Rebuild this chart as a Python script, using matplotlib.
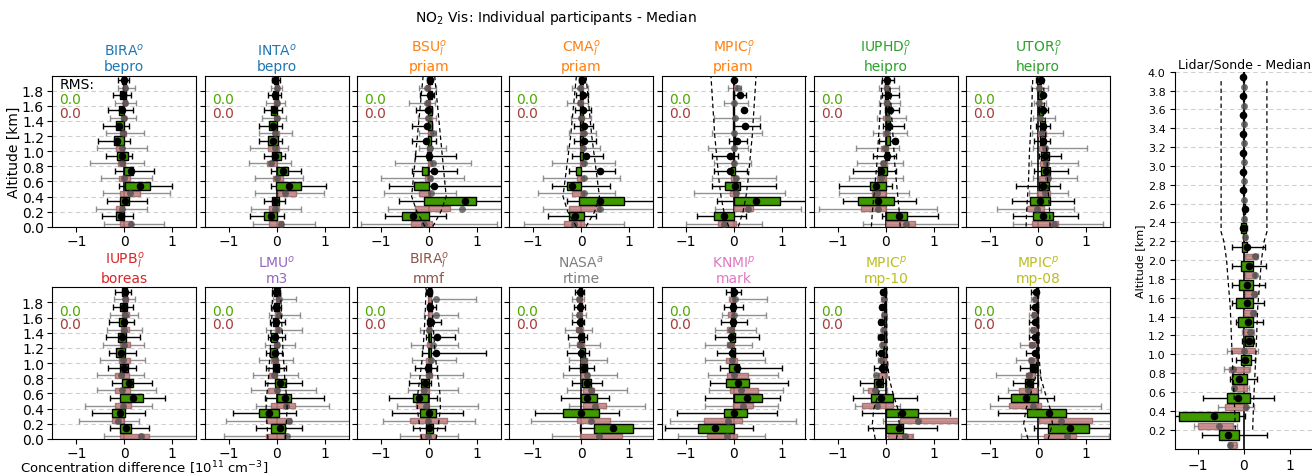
import numpy as np
import matplotlib
matplotlib.use("Agg")
import matplotlib.pyplot as plt

# ---------------------------------------------------------------------------
# Altitude levels [km]: MAX-DOAS retrieval (green) and reference (pink) boxes
# ---------------------------------------------------------------------------
ALT_RET = [0.14, 0.34, 0.54, 0.74, 0.94, 1.14, 1.34, 1.54, 1.74, 1.94]
ALT_REF = [0.04, 0.24, 0.44, 0.64, 0.84, 1.04, 1.24, 1.44, 1.64, 1.84]
ENV_ALT = [0.0, 0.2, 0.4, 0.6, 0.8, 1.0, 1.2, 1.4, 1.6, 1.8, 2.0]

# Each row: (whisker low, q25, mean, q75, whisker high), bottom level first
BIRA_BEPRO_RET = [(-0.47, -0.17, -0.07, 0.00, 0.18), (-0.36, -0.08, 0.02, 0.09, 0.47),
                  (-0.12, 0.01, 0.33, 0.54, 1.00), (-0.19, 0.00, 0.13, 0.19, 0.61),
                  (-0.38, -0.15, -0.05, 0.07, 0.17), (-0.54, -0.22, -0.15, 0.00, 0.12),
                  (-0.45, -0.18, -0.12, 0.00, 0.09), (-0.33, -0.12, -0.05, 0.00, 0.18),
                  (-0.24, -0.08, -0.03, 0.03, 0.14), (-0.14, -0.05, 0.00, 0.04, 0.09)]
BIRA_BEPRO_REF = [(-0.43, -0.10, 0.13, 0.16, 0.82), (-0.60, -0.18, -0.05, -0.01, 0.47),
                  (-0.44, -0.08, 0.12, 0.33, 0.96), (-0.49, -0.12, 0.00, 0.11, 0.58),
                  (-0.72, -0.14, -0.05, 0.02, 0.40), (-0.57, -0.17, -0.05, 0.00, 0.47),
                  (-0.38, -0.10, -0.02, 0.04, 0.42), (-0.29, -0.07, 0.00, 0.04, 0.25),
                  (-0.19, -0.03, 0.02, 0.06, 0.25), (-0.14, -0.01, 0.02, 0.06, 0.23)]

INTA_BEPRO_RET = [(-0.55, -0.26, -0.11, 0.01, 0.15), (-0.27, -0.10, -0.04, 0.04, 0.17),
                  (-0.11, -0.01, 0.26, 0.51, 1.03), (-0.11, 0.01, 0.14, 0.23, 0.51),
                  (-0.27, -0.10, -0.03, 0.10, 0.18), (-0.36, -0.17, -0.08, 0.03, 0.12),
                  (-0.36, -0.15, -0.08, 0.00, 0.12), (-0.27, -0.11, -0.06, 0.01, 0.12),
                  (-0.17, -0.08, -0.04, 0.03, 0.10), (-0.10, -0.06, -0.03, 0.03, 0.08)]
INTA_BEPRO_REF = [(-0.50, -0.15, 0.10, 0.13, 0.79), (-0.53, -0.15, -0.03, 0.06, 0.51),
                  (-0.44, 0.03, 0.17, 0.40, 0.98), (-0.46, -0.08, 0.01, 0.13, 0.54),
                  (-0.57, -0.20, -0.11, 0.01, 0.31), (-0.55, -0.17, -0.04, 0.04, 0.24),
                  (-0.37, -0.08, -0.03, 0.04, 0.32), (-0.30, -0.06, 0.00, 0.04, 0.19),
                  (-0.22, -0.06, 0.00, 0.04, 0.17), (-0.11, -0.04, 0.01, 0.04, 0.12)]

BSU_PRIAM_RET = [(-0.92, -0.57, -0.33, 0.00, 0.36), (-0.62, -0.10, 0.75, 0.99, 1.60),
                 (-0.83, -0.31, 0.10, 0.00, 1.60), (-0.35, -0.15, 0.10, -0.01, 0.59),
                 (-0.28, -0.03, 0.01, 0.04, 0.56), (-0.35, -0.02, -0.06, 0.05, 0.15),
                 (-0.35, -0.02, -0.05, 0.06, 0.07), (-0.26, -0.02, -0.01, 0.06, 0.06),
                 (-0.19, -0.02, 0.03, 0.07, 0.10), (-0.05, -0.02, 0.02, 0.06, 0.07)]
BSU_PRIAM_REF = [(-1.42, -0.38, -0.10, 0.07, 1.42), (-0.85, -0.29, 0.68, 0.43, 1.60),
                 (-0.94, -0.21, 0.05, 0.03, 0.56), (-1.00, -0.08, 0.03, 0.06, 0.73),
                 (-0.71, -0.01, 0.08, 0.07, 0.87), (-0.21, -0.03, 0.03, 0.06, 0.35),
                 (-0.21, -0.01, 0.08, 0.08, 0.15), (-0.22, -0.06, -0.01, 0.06, 0.15),
                 (-0.42, -0.07, -0.05, 0.03, 0.13), (-0.21, -0.06, -0.03, 0.03, 0.15)]

CMA_PRIAM_RET = [(-0.70, -0.25, -0.12, 0.05, 0.30), (-0.30, -0.05, 0.40, 0.90, 1.60),
                 (-0.60, -0.30, -0.20, 0.00, 0.60), (-0.25, -0.10, 0.40, 0.00, 0.70),
                 (-0.20, -0.02, 0.10, 0.03, 0.45), (-0.15, -0.02, 0.05, 0.03, 0.30),
                 (-0.15, -0.02, 0.05, 0.03, 0.25), (-0.12, -0.02, 0.03, 0.03, 0.20),
                 (-0.10, -0.02, 0.03, 0.03, 0.15), (-0.05, -0.02, 0.02, 0.03, 0.08)]
CMA_PRIAM_REF = [(-1.20, -0.35, -0.15, 0.05, 0.90), (-0.80, -0.25, 0.40, 0.40, 1.60),
                 (-0.90, -0.20, 0.05, 0.05, 0.70), (-0.80, -0.08, 0.05, 0.06, 0.80),
                 (-0.60, -0.02, 0.05, 0.07, 0.70), (-0.30, -0.03, 0.03, 0.06, 0.40),
                 (-0.25, -0.02, 0.05, 0.07, 0.30), (-0.22, -0.05, 0.00, 0.06, 0.20),
                 (-0.30, -0.06, -0.02, 0.04, 0.15), (-0.20, -0.05, -0.02, 0.03, 0.15)]

MPIC_PRIAM_RET = [(-0.76, -0.40, -0.19, 0.02, 0.26), (-0.34, 0.00, 0.47, 0.96, 1.60),
                  (-0.45, -0.17, 0.03, 0.13, 0.89), (-0.41, -0.06, -0.08, 0.03, 0.29),
                  (-0.45, -0.02, -0.07, 0.02, 0.09), (-0.10, 0.00, 0.07, 0.04, 0.29),
                  (0.02, -0.01, 0.23, 0.02, 0.56), (0.22, -0.01, 0.22, 0.02, 0.22),
                  (0.00, -0.01, 0.13, 0.02, 0.26), (0.02, -0.01, 0.02, 0.02, 0.02)]
MPIC_PRIAM_REF = [(-0.99, -0.33, -0.19, 0.06, 0.59), (-0.38, 0.02, 0.31, 0.40, 1.41),
                  (-0.83, -0.08, 0.06, 0.09, 1.07), (-0.45, -0.06, 0.06, 0.08, 0.89),
                  (-0.40, -0.03, 0.01, 0.03, 0.36), (-0.54, -0.02, 0.02, 0.03, 0.30),
                  (-0.45, -0.01, 0.02, 0.03, 0.59), (-0.40, -0.01, 0.03, 0.03, 0.56),
                  (-0.20, -0.02, 0.00, 0.03, 0.31), (-0.12, 0.02, 0.10, 0.08, 0.15)]

IUPHD_HEIPRO_RET = [(-0.07, 0.00, 0.27, 0.45, 1.08), (-0.90, -0.58, -0.16, 0.17, 0.63),
                    (-0.98, -0.32, -0.21, 0.00, 0.12), (-0.69, -0.16, -0.09, 0.03, 0.21),
                    (-0.27, -0.02, 0.03, 0.07, 0.21), (-0.14, 0.00, 0.19, 0.08, 0.24),
                    (-0.06, 0.00, 0.07, 0.08, 0.38), (-0.02, 0.00, 0.08, 0.07, 0.28),
                    (-0.07, -0.02, 0.05, 0.05, 0.28), (-0.07, -0.02, 0.03, 0.05, 0.17)]
IUPHD_HEIPRO_REF = [(-0.48, 0.00, 0.42, 0.61, 1.52), (-1.40, -0.51, -0.16, 0.00, 1.07),
                    (-0.98, -0.28, -0.18, 0.00, 0.49), (-0.76, -0.18, -0.11, 0.00, 0.36),
                    (-0.60, -0.11, -0.06, 0.03, 0.36), (-0.62, -0.09, -0.02, 0.05, 0.28),
                    (-0.27, -0.06, 0.03, 0.05, 0.44), (-0.18, -0.06, 0.05, 0.07, 0.42),
                    (-0.14, -0.04, 0.03, 0.07, 0.30), (-0.14, -0.04, 0.03, 0.05, 0.28)]

UTOR_HEIPRO_RET = [(-0.52, -0.11, 0.11, 0.32, 0.84), (-0.55, -0.17, 0.04, 0.24, 0.74),
                   (-0.45, 0.01, 0.10, 0.22, 0.46), (-0.08, 0.06, 0.17, 0.24, 0.62),
                   (0.01, 0.06, 0.15, 0.22, 0.48), (-0.08, 0.04, 0.10, 0.15, 0.25),
                   (-0.04, 0.04, 0.10, 0.15, 0.25), (0.00, 0.01, 0.11, 0.10, 0.20),
                   (0.11, -0.01, 0.11, 0.08, 0.11), (-0.04, -0.03, 0.06, 0.06, 0.08)]
UTOR_HEIPRO_REF = [(-0.53, -0.13, 0.34, 0.41, 1.36), (-0.85, -0.24, -0.03, 0.13, 0.74),
                   (-0.20, -0.03, 0.15, 0.25, 0.62), (-0.11, 0.01, 0.20, 0.25, 0.81),
                   (-0.15, 0.04, 0.17, 0.20, 0.84), (-0.11, 0.01, 0.15, 0.18, 1.02),
                   (-0.13, -0.01, 0.08, 0.17, 0.52), (-0.11, -0.03, 0.03, 0.08, 0.36),
                   (-0.08, -0.03, 0.01, 0.06, 0.17), (-0.15, -0.03, 0.01, 0.06, 0.20)]

IUPB_BOREAS_RET = [(-0.29, -0.08, 0.04, 0.13, 0.51), (-0.67, -0.26, -0.08, 0.02, 0.44),
                   (-0.29, -0.08, 0.18, 0.39, 0.85), (-0.26, -0.05, 0.09, 0.19, 0.58),
                   (-0.33, -0.10, -0.01, 0.07, 0.25), (-0.31, -0.17, -0.06, 0.02, 0.25),
                   (-0.38, -0.14, -0.04, 0.03, 0.32), (-0.31, -0.11, -0.01, 0.04, 0.21),
                   (-0.24, -0.08, 0.00, 0.06, 0.18), (-0.19, -0.05, 0.01, 0.06, 0.14)]
IUPB_BOREAS_REF = [(-0.43, -0.08, 0.35, 0.51, 1.60), (-0.95, -0.26, -0.14, 0.00, 0.30),
                   (-0.81, -0.19, -0.03, 0.14, 0.58), (-0.57, -0.19, -0.05, 0.11, 0.65),
                   (-0.57, -0.19, -0.07, 0.09, 0.42), (-0.51, -0.12, -0.03, 0.11, 0.44),
                   (-0.44, -0.10, 0.00, 0.11, 0.42), (-0.36, -0.07, 0.00, 0.09, 0.37),
                   (-0.29, -0.05, 0.02, 0.09, 0.28), (-0.22, -0.03, 0.02, 0.07, 0.23)]

LMU_M3_RET = [(-0.43, -0.11, 0.08, 0.17, 0.52), (-0.90, -0.36, -0.15, 0.05, 0.40),
              (-0.25, 0.00, 0.17, 0.31, 0.98), (-0.25, -0.04, 0.08, 0.19, 0.52),
              (-0.23, -0.08, -0.01, 0.05, 0.20), (-0.22, -0.13, -0.04, 0.01, 0.12),
              (-0.18, -0.11, -0.04, 0.01, 0.17), (-0.13, -0.08, -0.02, 0.03, 0.17),
              (-0.11, -0.06, -0.01, 0.05, 0.10), (-0.09, -0.06, -0.01, 0.05, 0.08)]
LMU_M3_REF = [(-1.09, -0.23, 0.22, 0.19, 1.60), (-1.05, -0.22, 0.26, 0.31, 1.60),
              (-0.43, -0.11, 0.19, 0.38, 1.09), (-0.53, -0.18, 0.01, 0.06, 0.83),
              (-0.50, -0.16, -0.06, 0.01, 0.45), (-0.36, -0.11, -0.04, 0.03, 0.34),
              (-0.25, -0.06, 0.00, 0.05, 0.38), (-0.22, -0.04, 0.05, 0.06, 0.52),
              (-0.15, -0.04, 0.06, 0.08, 0.48), (-0.08, -0.02, 0.06, 0.06, 0.41)]

BIRA_MMF_RET = [(-0.33, -0.06, 0.01, 0.08, 0.33), (-0.76, -0.18, 0.00, 0.15, 0.71),
                (-0.83, -0.33, -0.21, -0.02, 0.17), (-0.42, -0.16, -0.09, 0.00, 0.05),
                (-0.30, -0.06, -0.01, 0.05, 0.17), (-0.14, 0.00, 0.14, 0.04, 1.20),
                (-0.07, 0.00, 0.17, 0.04, 0.55), (-0.05, -0.02, 0.05, 0.05, 0.26),
                (-0.04, -0.02, 0.03, 0.05, 0.15), (-0.06, -0.02, 0.01, 0.05, 0.07)]
BIRA_MMF_REF = [(-0.61, -0.19, -0.02, 0.12, 0.60), (-0.96, -0.39, -0.02, 0.37, 0.97),
                (-0.66, -0.26, -0.06, 0.01, 1.02), (-0.44, -0.16, -0.11, 0.01, 0.60),
                (-0.40, -0.06, 0.01, 0.07, 0.71), (-0.35, -0.06, 0.05, 0.07, 0.57),
                (-0.37, -0.04, 0.08, 0.05, 0.60), (-0.19, -0.04, 0.01, 0.05, 0.60),
                (-0.11, -0.02, 0.14, 0.07, 0.60), (0.00, -0.02, 0.14, 0.05, 0.98)]

NASA_RTIME_RET = [(-0.02, 0.26, 0.67, 1.08, 1.60), (-0.97, -0.38, 0.00, 0.38, 0.79),
                  (-0.42, 0.00, 0.13, 0.32, 0.57), (-0.19, 0.01, 0.12, 0.20, 0.43),
                  (-0.26, -0.03, 0.05, 0.13, 0.27), (-0.30, -0.03, 0.00, 0.08, 0.17),
                  (-0.28, -0.05, -0.01, 0.05, 0.12), (-0.19, -0.05, -0.02, 0.02, 0.05),
                  (-0.14, -0.05, -0.02, 0.01, 0.08), (-0.12, -0.05, -0.02, 0.01, 0.06)]
NASA_RTIME_REF = [(-0.61, -0.03, 0.37, 0.86, 1.60), (-1.05, -0.09, 0.21, 0.60, 1.60),
                  (-0.26, 0.03, 0.28, 0.52, 1.32), (-0.30, 0.03, 0.20, 0.27, 0.96),
                  (-0.37, -0.01, 0.13, 0.17, 0.74), (-0.26, -0.01, 0.06, 0.13, 0.53),
                  (-0.26, -0.08, -0.02, 0.05, 0.39), (-0.33, -0.10, -0.05, 0.03, 0.22),
                  (-0.19, -0.09, -0.05, 0.01, 0.10), (-0.19, -0.09, -0.05, 0.01, 0.06)]

KNMI_MARK_RET = [(-1.43, -0.74, -0.38, 0.01, 0.40), (-1.17, -0.19, 0.01, 0.29, 0.91),
                 (-0.59, 0.02, 0.29, 0.59, 0.97), (-0.48, -0.15, 0.10, 0.33, 1.14),
                 (-0.29, -0.10, 0.08, 0.12, 1.02), (-0.34, -0.06, -0.03, 0.03, 0.62),
                 (-0.38, -0.07, -0.06, 0.03, 0.54), (-0.26, -0.06, -0.02, 0.03, 0.28),
                 (-0.19, -0.05, -0.01, 0.03, 0.19), (-0.15, -0.05, 0.00, 0.03, 0.15)]
KNMI_MARK_REF = [(-1.16, -0.55, -0.14, 0.08, 0.66), (-1.32, -0.61, -0.12, 0.17, 1.31),
                 (-0.59, -0.01, 0.19, 0.41, 0.93), (-0.52, -0.08, 0.15, 0.52, 1.03),
                 (-0.54, -0.14, 0.00, 0.31, 0.93), (-0.59, -0.15, -0.03, 0.08, 0.66),
                 (-0.59, -0.14, -0.07, 0.00, 0.38), (-0.38, -0.14, -0.06, 0.00, 0.47),
                 (-0.24, -0.12, 0.00, 0.00, 0.68), (-0.10, -0.08, 0.03, 0.03, 0.69)]

MPIC_MP10_RET = [(-0.37, 0.01, 0.27, 0.36, 1.07), (-0.50, 0.01, 0.34, 0.67, 1.33),
                 (-0.68, -0.30, -0.09, 0.14, 0.65), (-0.53, -0.25, -0.15, -0.06, 0.01),
                 (-0.25, -0.11, -0.07, 0.00, 0.03), (-0.21, -0.06, -0.09, 0.00, 0.00),
                 (-0.16, -0.04, -0.09, 0.00, 0.00), (-0.14, -0.04, -0.09, 0.00, -0.02),
                 (-0.12, -0.04, -0.07, 0.00, -0.02), (-0.11, -0.04, -0.06, 0.00, 0.00)]
MPIC_MP10_REF = [(0.01, 0.05, 0.39, 0.55, 0.57), (-0.06, 0.29, 0.67, 1.50, 1.60),
                 (-0.64, -0.50, -0.19, 0.14, 0.29), (-0.48, -0.37, -0.23, -0.18, 0.03),
                 (-0.25, -0.16, -0.21, 0.00, 0.03), (-0.16, -0.12, -0.10, 0.00, 0.01),
                 (-0.10, -0.10, -0.07, 0.00, 0.00), (-0.08, -0.08, -0.06, 0.00, 0.00),
                 (-0.07, -0.07, -0.04, 0.00, 0.00), (-0.09, -0.07, -0.04, 0.00, 0.00)]

MPIC_MP08_RET = [(-0.08, 0.20, 0.66, 1.07, 1.52), (-0.84, -0.24, 0.22, 0.58, 1.52),
                 (-0.84, -0.56, -0.26, 0.00, 0.34), (-0.53, -0.28, -0.19, -0.10, 0.00),
                 (-0.37, -0.17, -0.11, -0.03, -0.03), (-0.25, -0.05, -0.06, 0.00, 0.00),
                 (-0.18, -0.05, -0.07, 0.00, -0.03), (-0.19, -0.05, -0.07, 0.00, -0.03),
                 (-0.17, -0.05, -0.06, 0.00, -0.03), (-0.15, -0.05, -0.04, 0.00, 0.00)]
MPIC_MP08_REF = [(-0.35, 0.13, 0.60, 0.79, 1.48), (-1.60, 0.01, 0.48, 1.13, 1.60),
                 (-1.01, -0.61, -0.10, 0.06, 1.31), (-0.63, -0.39, -0.21, -0.03, 0.06),
                 (-0.87, -0.25, -0.18, -0.06, 0.03), (-0.46, -0.19, -0.15, -0.04, 0.00),
                 (-0.37, -0.18, -0.13, -0.04, 0.00), (-0.19, -0.15, -0.11, -0.03, -0.03),
                 (-0.18, -0.12, -0.08, -0.03, -0.03), (-0.15, -0.11, -0.07, -0.03, -0.03)]

# Half width of the dashed uncertainty envelope at ENV_ALT (None: not shown)
ENV_BSU = [0.08, 0.25, 0.36, 0.33, 0.30, 0.27, 0.24, 0.21, 0.18, 0.15, 0.12]
ENV_CMA = [0.10, 0.28, 0.38, 0.34, 0.30, 0.26, 0.22, 0.19, 0.16, 0.13, 0.10]
ENV_MPIC_PRIAM = [0.10, 0.20, 0.26, 0.30, 0.33, 0.36, 0.39, 0.41, 0.43, 0.45, 0.47]
ENV_IUPHD = [0.30, 0.28, 0.25, 0.22, 0.19, 0.17, 0.15, 0.13, 0.11, 0.09, 0.07]
ENV_UTOR = [0.25, 0.24, 0.22, 0.20, 0.19, 0.18, 0.16, 0.15, 0.13, 0.12, 0.11]
ENV_LMU = [0.18, 0.20, 0.22, 0.20, 0.17, 0.15, 0.13, 0.12, 0.10, 0.09, 0.08]
ENV_BIRA_MMF = [0.15, 0.20, 0.24, 0.23, 0.19, 0.15, 0.12, 0.10, 0.08, 0.07, 0.06]
ENV_MP10 = [0.22, 0.28, 0.25, 0.15, 0.07, 0.04, 0.03, 0.02, 0.02, 0.01, 0.01]
ENV_MP08 = [0.21, 0.30, 0.25, 0.15, 0.06, 0.03, 0.02, 0.02, 0.01, 0.01, 0.01]

# Panel headers: (institute, superscript, subscript, algorithm, colour)
PANELS_TOP = [
    ("BIRA", "o", "", "bepro", "tab:blue", BIRA_BEPRO_RET, BIRA_BEPRO_REF, None),
    ("INTA", "o", "", "bepro", "tab:blue", INTA_BEPRO_RET, INTA_BEPRO_REF, None),
    ("BSU", "o", "l", "priam", "tab:orange", BSU_PRIAM_RET, BSU_PRIAM_REF, ENV_BSU),
    ("CMA", "o", "l", "priam", "tab:orange", CMA_PRIAM_RET, CMA_PRIAM_REF, ENV_CMA),
    ("MPIC", "o", "l", "priam", "tab:orange", MPIC_PRIAM_RET, MPIC_PRIAM_REF, ENV_MPIC_PRIAM),
    ("IUPHD", "o", "l", "heipro", "tab:green", IUPHD_HEIPRO_RET, IUPHD_HEIPRO_REF, ENV_IUPHD),
    ("UTOR", "o", "l", "heipro", "tab:green", UTOR_HEIPRO_RET, UTOR_HEIPRO_REF, ENV_UTOR),
]
PANELS_BOTTOM = [
    ("IUPB", "o", "l", "boreas", "tab:red", IUPB_BOREAS_RET, IUPB_BOREAS_REF, None),
    ("LMU", "o", "", "m3", "tab:purple", LMU_M3_RET, LMU_M3_REF, ENV_LMU),
    ("BIRA", "o", "l", "mmf", "tab:brown", BIRA_MMF_RET, BIRA_MMF_REF, ENV_BIRA_MMF),
    ("NASA", "a", "", "rtime", "tab:gray", NASA_RTIME_RET, NASA_RTIME_REF, None),
    ("KNMI", "p", "", "mark", "tab:pink", KNMI_MARK_RET, KNMI_MARK_REF, None),
    ("MPIC", "p", "", "mp-10", "tab:olive", MPIC_MP10_RET, MPIC_MP10_REF, ENV_MP10),
    ("MPIC", "p", "", "mp-08", "tab:olive", MPIC_MP08_RET, MPIC_MP08_REF, ENV_MP08),
]
RMS_RET = 0.0
RMS_REF = 0.0

# Lidar / sonde comparison (median over participants)
ALT_LS_RET = [0.14, 0.34, 0.54, 0.74, 0.94, 1.14, 1.34, 1.54, 1.74, 1.94,
              2.14, 2.34, 2.54, 2.74, 2.94, 3.14, 3.34, 3.54, 3.74, 3.94]
ALT_LS_REF = [0.04, 0.24, 0.44, 0.64, 0.84, 1.04, 1.24, 1.44, 1.64, 1.84,
              2.04, 2.24, 2.44, 2.64, 2.84, 3.04, 3.24, 3.44, 3.64, 3.84]
LIDAR_SONDE_RET = [(-0.92, -0.54, -0.34, -0.10, 0.51), (-1.60, -1.42, -0.65, -0.10, 0.02),
                   (-0.90, -0.38, -0.14, 0.13, 0.65), (-0.31, -0.27, -0.10, 0.07, 0.28),
                   (-0.17, -0.07, 0.03, 0.15, 0.24), (-0.05, 0.02, 0.11, 0.20, 0.22),
                   (-0.17, -0.14, 0.09, 0.20, 0.41), (-0.27, -0.17, 0.07, 0.20, 0.43),
                   (-0.27, -0.12, 0.07, 0.20, 0.45), (-0.27, -0.07, 0.11, 0.19, 0.49),
                   (-0.27, -0.05, 0.06, 0.07, 0.46), (-0.06, -0.06, -0.03, 0.04, 0.06),
                   (-0.03, -0.02, 0.02, 0.03, 0.04), (-0.03, -0.02, -0.02, 0.00, 0.00),
                   (-0.03, -0.02, -0.02, 0.00, 0.00), (-0.03, -0.02, -0.02, 0.00, 0.00),
                   (-0.03, -0.02, -0.02, 0.00, 0.00), (-0.03, -0.02, -0.02, 0.00, 0.00),
                   (-0.03, -0.02, -0.02, 0.00, 0.00), (-0.03, -0.02, -0.02, 0.00, 0.00)]
LIDAR_SONDE_REF = [(-0.35, -0.33, -0.30, -0.17, -0.15), (-1.10, -1.00, -0.54, -0.25, -0.15),
                   (-0.56, -0.41, 0.04, 0.06, 0.22), (-0.27, -0.25, -0.21, 0.07, 0.12),
                   (-0.44, -0.32, -0.25, 0.10, 0.13), (-0.38, -0.28, -0.01, 0.25, 0.31),
                   (-0.05, -0.01, 0.13, 0.20, 0.22), (-0.02, 0.00, 0.19, 0.24, 0.26),
                   (0.00, 0.02, 0.22, 0.26, 0.28), (0.00, 0.02, 0.24, 0.25, 0.27),
                   (0.00, 0.02, 0.25, 0.28, 0.30), (-0.02, 0.00, 0.03, 0.05, 0.06),
                   (-0.02, 0.00, 0.01, 0.03, 0.04), (-0.01, 0.00, 0.00, 0.01, 0.02),
                   (-0.01, 0.00, 0.00, 0.01, 0.02), (-0.01, 0.00, 0.00, 0.01, 0.02),
                   (-0.01, 0.00, 0.00, 0.01, 0.02), (-0.01, 0.00, 0.00, 0.01, 0.02),
                   (-0.01, 0.00, 0.00, 0.01, 0.02), (-0.01, 0.00, 0.00, 0.01, 0.02)]
ENV_LS_ALT = [0.2, 0.5, 1.0, 1.5, 1.8, 2.0, 2.2, 2.3, 3.9]
ENV_LS = [0.19, 0.21, 0.26, 0.30, 0.35, 0.38, 0.44, 0.50, 0.50]

# ---------------------------------------------------------------------------
RET_FACE = "#3f9a00"
REF_FACE = "#c98383"
RMS_RET_COLOR = "#4fa800"
RMS_REF_COLOR = "#a33c3c"
XLIM = (-1.5, 1.5)


def draw_stats(ax, alts, table, height, kind):
    lo, q1, mean, q3, hi = np.array(table, dtype=float).T
    alts = np.asarray(alts, dtype=float)
    if kind == "ret":
        wc, wa, face, edge, dot, da, ms = "k", 1.0, RET_FACE, "k", "k", 1.0, 5.5
    else:
        wc, wa, face, edge, dot, da, ms = "#777777", 0.8, REF_FACE, "#9a6a6a", "#4a4a4a", 0.75, 5.0
    ax.hlines(alts, lo, hi, colors=wc, lw=1.0, alpha=wa, zorder=2)
    ax.plot(lo, alts, "|", color=wc, ms=5, mew=1.0, alpha=wa, zorder=2)
    ax.plot(hi, alts, "|", color=wc, ms=5, mew=1.0, alpha=wa, zorder=2)
    ax.barh(alts, q3 - q1, left=q1, height=height, color=face, edgecolor=edge,
            lw=1.0, alpha=(1.0 if kind == "ret" else 0.85), zorder=3)
    ax.plot(mean, alts, "o", color=dot, ms=ms, alpha=da, mec="none", zorder=4)


def draw_envelope(ax, alt, half):
    half = np.asarray(half, dtype=float)
    ax.plot(-half, alt, ls=(0, (3.5, 2.5)), color="k", lw=0.9, zorder=5)
    ax.plot(half, alt, ls=(0, (3.5, 2.5)), color="k", lw=0.9, zorder=5)


fig = plt.figure(figsize=(13.12, 4.77), dpi=100)

W_PX, H_PX = 1312.0, 477.0
ax_w = 144.0 / W_PX
rows = [(PANELS_TOP, (H_PX - 227.7) / H_PX, 151.0 / H_PX),
        (PANELS_BOTTOM, (H_PX - 440.0) / H_PX, 151.7 / H_PX)]

for r, (panels, bottom, height) in enumerate(rows):
    for c, (inst, sup, sub, algo, col, ret, ref, env) in enumerate(panels):
        left = (52.3 + 152.3 * c) / W_PX
        ax = fig.add_axes([left, bottom, ax_w, height])
        ax.set_xlim(*XLIM)
        ax.set_ylim(0.0, 2.0)
        ax.set_yticks([0.0, 0.2, 0.4, 0.6, 0.8, 1.0, 1.2, 1.4, 1.6, 1.8])
        ax.set_xticks([-1, 0, 1])
        ax.grid(axis="y", ls=(0, (4, 3)), color="#d0d0d0", lw=0.8, zorder=0)
        ax.set_axisbelow(True)
        ax.axvline(0, color="k", lw=1.2, zorder=2.5)
        draw_stats(ax, ALT_REF, ref, 0.065, "ref")
        draw_stats(ax, ALT_RET, ret, 0.11, "ret")
        if env is not None:
            draw_envelope(ax, ENV_ALT, env)
        if sub:
            label = inst + r"$_{%s}^{%s}$" % (sub, sup)
        else:
            label = inst + r"$^{%s}$" % sup
        ax.set_title(label + "\n" + algo, color=col, fontsize=10, pad=4, linespacing=1.1)
        if c == 0:
            ax.set_yticklabels(["%.1f" % v for v in ax.get_yticks()])
        else:
            ax.set_yticklabels([])
        if r == 0 and c == 0:
            ax.set_ylabel("Altitude [km]", fontsize=10, labelpad=1)
            ax.text(0.05, 0.945, "RMS:", transform=ax.transAxes, fontsize=10,
                    ha="left", va="center")
        ax.text(0.05, 0.845, "%.1f" % RMS_RET, transform=ax.transAxes, fontsize=10,
                color=RMS_RET_COLOR, ha="left", va="center")
        ax.text(0.05, 0.755, "%.1f" % RMS_REF, transform=ax.transAxes, fontsize=10,
                color=RMS_REF_COLOR, ha="left", va="center")
        ax.tick_params(axis="y", labelsize=10, pad=2.5)
        ax.tick_params(axis="x", labelsize=10, pad=1.5)

# Lidar / sonde panel
axr = fig.add_axes([1175.3 / W_PX, (H_PX - 449.5) / H_PX, 137.4 / W_PX, 376.8 / H_PX])
axr.set_xlim(*XLIM)
axr.set_ylim(0.0, 4.0)
axr.set_yticks([0.2, 0.4, 0.6, 0.8, 1.0, 1.2, 1.4, 1.6, 1.8, 2.0,
                2.2, 2.4, 2.6, 2.8, 3.0, 3.2, 3.4, 3.6, 3.8, 4.0])
axr.set_xticks([-1, 0, 1])
axr.grid(axis="y", ls=(0, (4, 3)), color="#d0d0d0", lw=0.8, zorder=0)
axr.set_axisbelow(True)
axr.axvline(0, color="k", lw=1.2, zorder=2.5)
draw_stats(axr, ALT_LS_REF, LIDAR_SONDE_REF, 0.06, "ref")
draw_stats(axr, ALT_LS_RET, LIDAR_SONDE_RET, 0.105, "ret")
draw_envelope(axr, ENV_LS_ALT, ENV_LS)
axr.spines["top"].set_visible(False)
axr.spines["right"].set_visible(False)
axr.tick_params(axis="y", labelsize=8)
axr.tick_params(axis="x", labelsize=10)
axr.set_ylabel("Altitude [km]", fontsize=8, labelpad=2)
axr.set_title("Lidar/Sonde - Median", fontsize=9, pad=3)

fig.text(0.424, 0.962, r"NO$_2$ Vis: Individual participants - Median",
         ha="center", va="center", fontsize=10)
fig.text(0.015, 0.0, r"Concentration difference [10$^{11}$ cm$^{-3}$]",
         ha="left", va="bottom", fontsize=9.5)

fig.savefig("out.png", dpi=100)
